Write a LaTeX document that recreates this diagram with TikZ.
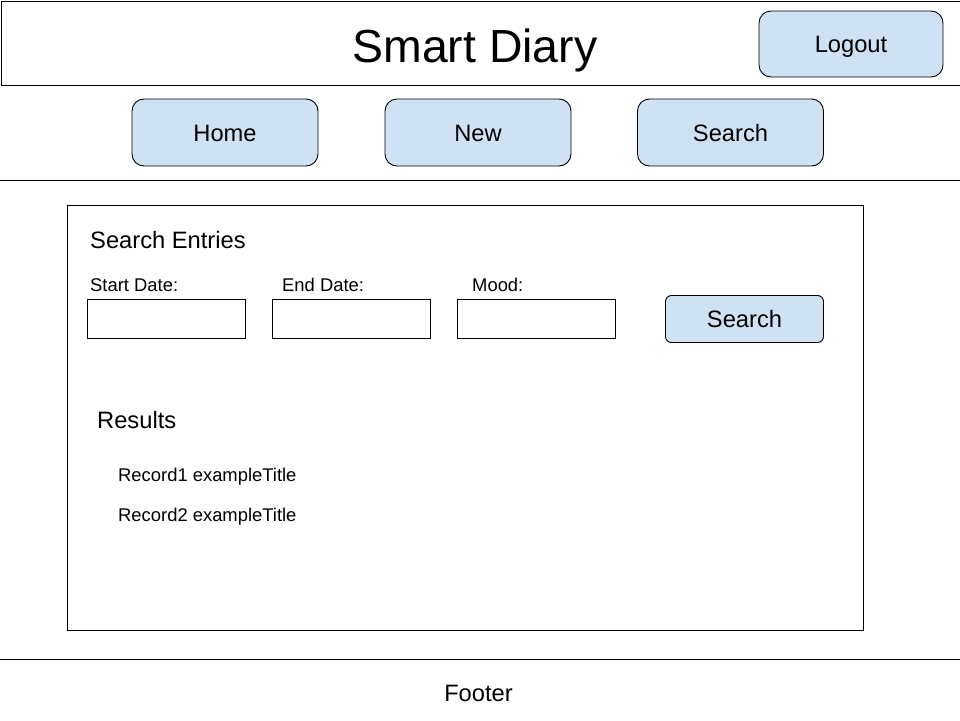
\documentclass[tikz,border=0pt]{standalone}
\usepackage{fontspec}
\setmainfont{Liberation Sans}
\definecolor{btnblue}{HTML}{CFE2F3}
\begin{document}
\begin{tikzpicture}[x=1pt,y=-1pt,
  btn/.style={draw=black,line width=0.9pt,fill=btnblue,rounded corners=12pt,inner sep=0pt,
    text height=17pt,text depth=0pt,font=\fontsize{23.7}{28}\selectfont},
  smallbtn/.style={btn,rounded corners=6pt},
  inbox/.style={draw=black,line width=0.9pt,fill=white,inner sep=0pt,minimum width=158pt,minimum height=39pt},
  lbl/.style={anchor=base west,inner sep=0pt,font=\fontsize{18.4}{22}\selectfont},
  hd/.style={anchor=base west,inner sep=0pt,font=\fontsize{23.7}{28}\selectfont},
  frame/.style={draw=black,line width=0.9pt}]
\useasboundingbox (0,0) rectangle (960,720);
\fill[white] (0,0) rectangle (960,720);
% header
\node[frame,inner sep=0pt,minimum width=959pt,minimum height=84pt,anchor=north west] (header) at (0.5,1) {};
\node[anchor=base,inner sep=0pt,font=\fontsize{46.4}{54}\selectfont] (title) at (475,62) {Smart Diary};
\node[btn,minimum width=184pt,minimum height=66pt] (logout) at (851,44) {Logout};
% nav
\coordinate (navL) at (0,180.5);
\coordinate (navR) at (960,180.5);
\draw[frame] (navL) -- (navR);
\node[btn,minimum width=186pt,minimum height=67pt] (home) at (225,132.5) {Home};
\node[btn,minimum width=186pt,minimum height=67pt] (new) at (478,132.5) {New};
\node[btn,minimum width=186pt,minimum height=67pt] (search) at (730.5,132.5) {Search};
% main panel
\node[frame,inner sep=0pt,minimum width=796pt,minimum height=425pt,anchor=north west] (panel) at (67,205) {};
\node[hd] (entries) at (90,248) {Search Entries};
\node[lbl] (lstart) at (90,291) {Start Date:};
\node[lbl] (lend) at (282,291) {End Date:};
\node[lbl] (lmood) at (472,291) {Mood:};
\node[inbox,anchor=north west] (istart) at (87,299) {};
\node[inbox,anchor=north west] (iend) at (272,299) {};
\node[inbox,anchor=north west] (imood) at (457,299) {};
\node[smallbtn,minimum width=158pt,minimum height=47pt] (sbtn) at (744.5,319) {Search};
\node[hd] (results) at (97,428) {Results};
\node[lbl] (rec1) at (118,481) {Record1 exampleTitle};
\node[lbl] (rec2) at (118,521) {Record2 exampleTitle};
% footer
\coordinate (footL) at (0,659.5);
\coordinate (footR) at (960,659.5);
\draw[frame] (footL) -- (footR);
\node[inner sep=0pt,text height=17pt,text depth=0pt,font=\fontsize{23.7}{28}\selectfont] (footer) at (478.5,693) {Footer};
\end{tikzpicture}
\end{document}
